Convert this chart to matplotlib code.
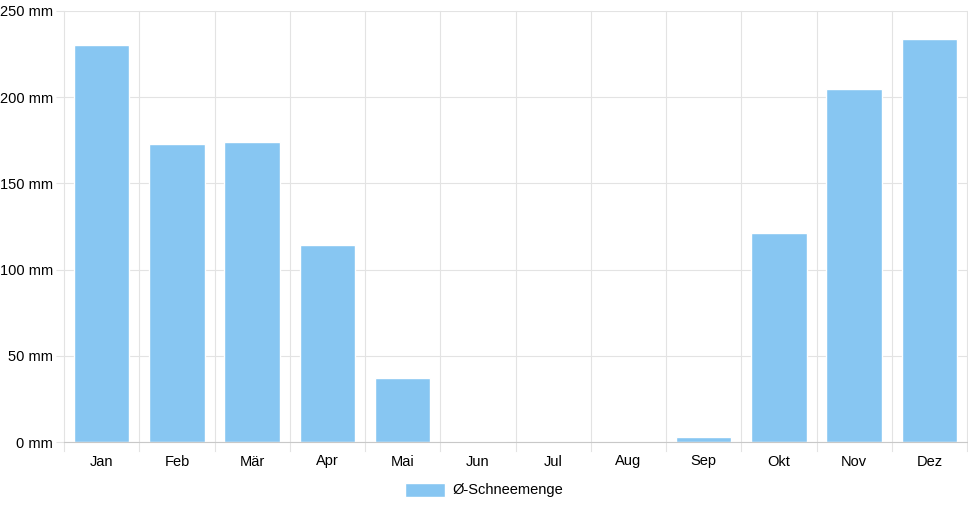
import matplotlib.pyplot as plt
from matplotlib.patches import Patch

plt.rcParams['font.family'] = ['Liberation Sans', 'DejaVu Sans']

# Data
months = ["Jan", "Feb", "Mär", "Apr", "Mai", "Jun", "Jul", "Aug", "Sep", "Okt", "Nov", "Dez"]
snow = [230, 173, 174, 114, 37, 0.5, 0, 0, 3, 121, 205, 234]
yticks = [0, 50, 100, 150, 200, 250]

bar_color = "#87c6f2"
grid_color = "#e3e3e3"

fig = plt.figure(figsize=(9.68, 5.08), dpi=100)
ax = fig.add_axes([64 / 968, 66 / 508, 903 / 968, 431 / 508])

x = list(range(len(months)))
ax.bar(x, snow, width=0.74, color=bar_color, edgecolor="white", linewidth=1.0, zorder=3)

ax.set_xlim(-0.5, len(months) - 0.5)
ax.set_ylim(0, 250)

ax.set_yticks(yticks)
ax.set_yticklabels([f"{v} mm" for v in yticks], fontsize=10.5)
ax.set_xticks(x)
ax.set_xticklabels(months, fontsize=10.5)
ax.tick_params(axis="x", length=0, pad=9)
ax.tick_params(axis="y", length=6, color=grid_color, pad=2)

# grid: horizontal at y ticks, vertical at category boundaries
for v in yticks:
    ax.axhline(v, color=grid_color, linewidth=0.8, zorder=1)
for b in range(len(months) + 1):
    ax.plot([b - 0.5, b - 0.5], [-5, 250], color=grid_color, linewidth=0.8,
            zorder=1, clip_on=False)

for side in ["top", "right", "left"]:
    ax.spines[side].set_visible(False)
ax.spines["bottom"].set_color("#c8c8c8")
ax.spines["bottom"].set_zorder(4)

fig.legend(handles=[Patch(facecolor=bar_color, edgecolor="white")],
           labels=["Ø-Schneemenge"], loc="center", bbox_to_anchor=(0.5, 18 / 508),
           frameon=False, fontsize=10.5, handlelength=2.8, handleheight=1.1, handletextpad=0.5)

fig.savefig("out.png", dpi=100, facecolor="white")
